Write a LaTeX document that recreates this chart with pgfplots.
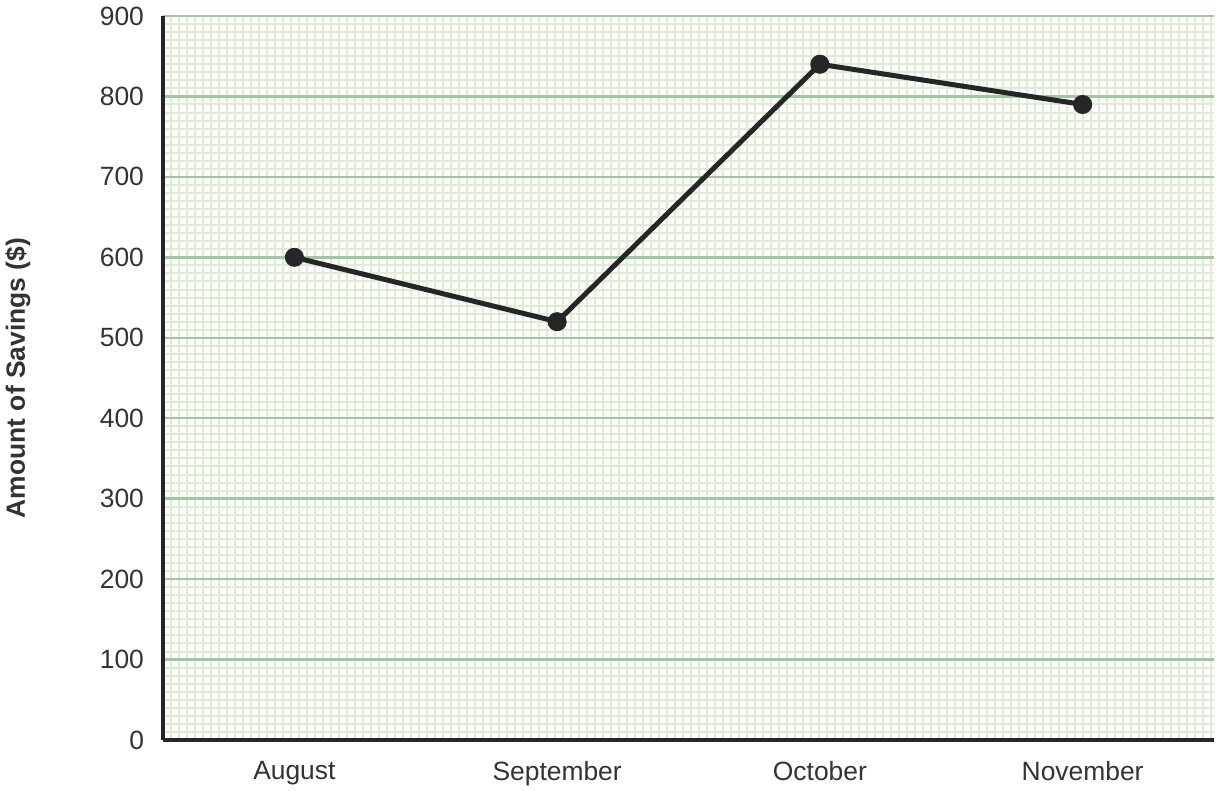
\documentclass[border=0pt]{standalone}
\usepackage{pgfplots}
\pgfplotsset{compat=1.18}
\usepackage{fontspec}
\setmainfont{Liberation Sans}
\definecolor{inkdark}{HTML}{262626}
\definecolor{txt}{HTML}{333333}
\definecolor{gridmajor}{HTML}{A0C8A0}
\definecolor{gridminor}{HTML}{DDEDD2}
\begin{document}
\begin{tikzpicture}
\useasboundingbox (-81.5pt,-25.5pt) rectangle (529pt,370pt);
% x runs in steps of 4pt (one minor grid cell); the four months sit 32.84375 cells apart
\begin{axis}[
	scale only axis,
	width=525.5pt, height=362pt,
	at={(0,0)}, anchor=south west,
	xmin=0, xmax=131.375,
	ymin=0, ymax=900,
	xtick={16.421875,49.265625,82.109375,114.953125},
	xticklabels={August, September, October, November},
	ytick distance=100,
	minor xtick={0,1,...,131},
	minor y tick num=9,
	major tick length=0pt, minor tick length=0pt,
	ymajorgrids=true, yminorgrids=true, xminorgrids=true,
	minor grid style={gridminor, line width=1pt},
	major grid style={gridmajor, line width=1.2pt},
	axis x line*=bottom, axis y line*=left,
	axis line style={inkdark, line width=2pt, -},
	tick label style={font=\fontsize{13.2}{16}\selectfont, text=txt},
	/pgf/number format/assume math mode=true,
	yticklabel style={xshift=-6pt},
	xticklabel style={yshift=-7pt},
	ylabel={Amount of Savings (\$)},
	ylabel style={at={(axis description cs:-0.138,0.5)}, anchor=center, rotate=0,
		font=\bfseries\fontsize{13.2}{16}\selectfont, text=txt},
]
\addplot[inkdark, line width=2.5pt, mark=*, mark size=3.5pt, mark options={fill=inkdark}]
	coordinates {(16.421875,600) (49.265625,520) (82.109375,840) (114.953125,790)};
\end{axis}
\end{tikzpicture}
\end{document}
